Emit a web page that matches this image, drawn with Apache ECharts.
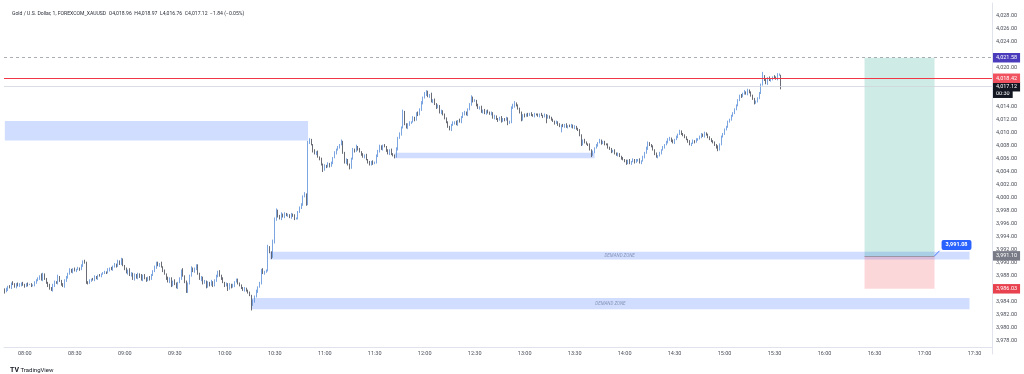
<!DOCTYPE html>
<html><head><meta charset="utf-8">
<script src="https://cdn.jsdelivr.net/npm/echarts@6/dist/echarts.min.js"></script>
<style>html,body{margin:0;padding:0;background:#fff}#c{width:1024px;height:374px}</style>
</head><body><div id="c"></div>
<script>
// ---- data ----
const startHour = 7, startMinute = 48, categoryCount = 593;
const firstOpen = 3985.9;
const closes = [
3985.6,3985.9,3986.4,3986.2,3986.9,3986.7,3986.4,3986.8,3986.5,3986.6,
3986.9,3986.6,3986.4,3986.8,3986.7,3986.7,3986.5,3986.6,3986.9,3987.3,
3987.6,3987.9,3987.4,3988.2,3987.5,3987.0,3986.6,3986.2,3985.8,3986.5,
3987.1,3986.9,3987.9,3987.2,3986.8,3986.4,3987.2,3987.8,3988.3,3988.9,
3988.6,3989.1,3988.8,3989.0,3989.2,3989.0,3989.6,3990.2,3990.0,3987.1,
3986.9,3987.3,3987.5,3987.4,3987.8,3987.6,3988.1,3988.0,3988.3,3988.4,
3988.6,3988.5,3988.9,3989.2,3989.0,3989.4,3989.8,3989.5,3990.2,3989.9,
3990.5,3989.6,3989.1,3988.5,3988.9,3988.1,3988.4,3987.5,3988.2,3987.7,
3988.3,3988.0,3987.4,3988.1,3987.6,3987.3,3987.8,3987.5,3988.2,3988.7,
3989.3,3990.0,3989.6,3989.9,3989.4,3988.8,3988.3,3987.7,3987.1,3987.6,
3986.5,3987.2,3986.8,3986.2,3987.0,3987.6,3988.9,3988.0,3987.1,3985.6,
3986.8,3988.1,3989.2,3988.7,3989.0,3989.6,3988.4,3987.5,3987.8,3986.9,
3987.2,3986.3,3987.0,3986.6,3987.1,3986.5,3987.3,3987.9,3988.7,3988.1,
3987.6,3987.0,3986.5,3986.8,3986.0,3986.7,3986.3,3986.5,3987.1,3987.4,
3986.9,3986.5,3986.2,3985.8,3986.1,3985.7,3985.5,3985.0,3983.6,3984.1,
3984.8,3985.6,3986.3,3986.9,3988.9,3988.4,3988.6,3988.9,3992.3,3991.6,
3990.9,3993.2,3996.6,3998.1,3997.2,3996.8,3997.5,3997.1,3997.6,3997.3,
3997.4,3997.0,3997.5,3997.2,3996.8,3996.9,3997.8,3998.5,3998.9,4000.2,
4000.6,3999.0,4008.5,4008.9,4008.2,4007.3,4006.8,4007.1,4006.3,4006.0,
4005.2,4004.3,4005.0,4004.8,4005.3,4004.9,4005.4,4006.2,4006.9,4007.4,
4007.8,4008.2,4008.6,4007.0,4005.4,4005.9,4005.1,4004.6,4006.1,4007.4,
4007.2,4007.9,4007.5,4007.1,4006.7,4006.3,4006.6,4005.9,4005.5,4005.1,
4005.6,4005.3,4005.5,4006.4,4007.2,4007.9,4007.5,4008.1,4007.9,4007.3,
4006.9,4007.4,4006.8,4006.5,4006.3,4007.5,4009.2,4009.8,4010.8,4013.2,
4011.4,4010.8,4011.2,4011.6,4011.7,4012.3,4012.0,4013.1,4012.8,4013.5,
4014.6,4015.4,4015.9,4016.3,4015.6,4015.9,4014.8,4015.1,4014.4,4014.0,
4014.2,4013.1,4013.4,4012.8,4012.3,4011.6,4011.0,4010.5,4011.2,4011.5,
4011.7,4011.3,4011.9,4011.7,4012.4,4012.9,4013.2,4012.8,4013.6,4014.3,
4015.5,4014.9,4015.0,4014.3,4013.8,4014.0,4013.2,4013.5,4013.0,4013.4,
4013.2,4012.9,4013.1,4012.3,4012.6,4012.1,4012.0,4012.4,4011.8,4012.2,
4012.0,4012.3,4011.5,4011.7,4013.8,4014.1,4014.6,4014.2,4013.8,4013.1,
4012.0,4012.8,4012.6,4012.9,4012.7,4013.0,4012.8,4012.6,4012.9,4012.8,
4012.6,4012.9,4012.7,4012.5,4012.8,4012.4,4012.6,4012.3,4012.1,4011.8,
4011.5,4011.7,4011.3,4011.0,4011.2,4011.0,4011.3,4010.9,4011.1,4011.0,
4011.2,4010.8,4011.0,4010.6,4010.5,4009.6,4008.2,4008.9,4008.6,4008.3,
4008.2,4007.4,4006.6,4007.1,4007.7,4008.1,4008.5,4008.9,4008.4,4008.6,
4008.3,4008.2,4007.8,4007.5,4007.1,4007.3,4006.9,4006.6,4006.8,4006.4,
4006.1,4005.9,4005.7,4005.4,4005.8,4005.3,4005.6,4005.9,4005.5,4005.8,
4005.9,4005.4,4005.7,4006.3,4006.9,4007.6,4008.5,4008.1,4008.0,4007.4,
4006.8,4006.3,4006.5,4006.9,4007.4,4007.8,4008.2,4008.6,4008.9,4009.2,
4008.8,4008.5,4009.0,4009.4,4009.8,4010.2,4009.9,4009.6,4009.4,4009.0,
4008.7,4008.2,4008.4,4008.8,4008.6,4009.0,4009.1,4009.4,4009.7,4009.5,
4010.0,4009.7,4009.4,4009.0,4008.8,4008.5,4008.2,4007.9,4007.4,4008.3,
4009.4,4009.9,4010.5,4011.0,4011.7,4012.1,4012.6,4013.1,4013.6,4014.3,
4015.0,4015.8,4015.6,4016.1,4016.3,4016.0,4016.6,4016.2,4015.8,4015.2,
4014.6,4014.9,4015.3,4016.2,4017.4,4018.6,4018.2,4017.6,4018.5,4018.1,
4018.2,4018.6,4018.5,4018.3,4018.9,4018.96,4017.12
];
// wick lengths above / below the body, in tenths of a dollar, one digit per candle
const wickUp = [
"2312132123","1221212132","2253221213","2131213223","2121212232","1212321212","2131222132","3212132121",
"2131221212","3221312122","2132121312","2131322121","2121312312","1212121312","2121212113","2312232153",
"2443123121","2121312232","3133212121","2121212132","2142121213","2312121212","1213232121","2121232324",
"2132132123","3243213122","2121212123","1213232123","3121212121","2121212121","1212343121","2121212121",
"2121212121","1212121212","2121212121","1212121212","2121212121","1212121212","1212232121","1212121232",
"1212132121","1212121232","2121212121","2121212121","2121312121","2121283212","2132320"
].join('');
const wickDown = [
"3121212312","2121312121","1212123312","2121312121","1212121213","2121212121","1212121212","2121312121",
"2312121212","1212121312","2121212122","2121212132","1212121212","2121312121","2121212192","2121212121",
"3121212121","2121212121","1212131212","2312121212","1212121212","2121212121","1212121212","2321212121",
"2121212121","1212121213","2121212121","2121212121","1212121212","2121213121","2131212121","2121212121",
"1212192121","2121912121","2121212121","2131212121","2121212121","2123212121","2121212121","2121212121",
"2121212121","2121212121","2121212321","2121212121","2121212121","2121212121","2121214"
].join('');
const zoneStart  = ['07:48', '11:42', '10:27', '10:16'];
const zoneEnd    = ['10:50', '13:42', '17:27', '17:27'];
const zoneTop    = [4011.85, 4006.97, 3991.75, 3984.6];
const zoneBottom = [4008.85, 4006.10, 3990.55, 3982.9];
const zoneLabels = ['', '', 'DEMAND ZONE', 'DEMAND ZONE'];
const posStart = '16:24', posEnd = '17:06';
const targetPrice = 4021.58, entryPrice = 3991.08, stopPrice = 3986.03, entryAxisPrice = 3991.10;
const alertPrice = 4018.42, lastPrice = 4017.12, countdown = '00:30';
const hiddenTicks = [4030, 4022, 4018, 4016, 3986, 3976];
const titleText = 'Gold / U.S. Dollar, 1, FOREXCOM_XAUUSD  O4,018.96  H4,018.97  L4,016.76  C4,017.12  \u22121.84 (\u22120.05%)';

// ---- build ----
const pad = n => String(n).padStart(2, '0');
const categories = [];
for (let k = 0; k < categoryCount; k++) {
  const t = startHour * 60 + startMinute + k;
  categories.push(pad(Math.floor(t / 60)) + ':' + pad(t % 60));
}
const candles = closes.map((c, i) => {
  const o = i ? closes[i - 1] : firstOpen;
  const h = Math.max(o, c) + Number(wickUp[i]) / 10;
  const l = Math.min(o, c) - Number(wickDown[i]) / 10;
  return [o, c, +l.toFixed(2), +h.toFixed(2)];
});
const fmt = v => v.toLocaleString('en-US', {minimumFractionDigits: 2, maximumFractionDigits: 2});
const FONT = 'Roboto';
const zoneItems = zoneStart.map((s, i) => [
  {xAxis: s, yAxis: zoneTop[i],
   itemStyle: {color: 'rgba(41,98,255,0.22)'},
   label: {show: !!zoneLabels[i], formatter: zoneLabels[i], position: 'inside',
           color: 'rgba(110,125,160,0.75)', fontSize: 4.5, fontStyle: 'italic', fontFamily: FONT}},
  {xAxis: zoneEnd[i], yAxis: zoneBottom[i]}
]);
const priceTag = (text, bg) => ({show: true, position: 'end', distance: 1, formatter: text, backgroundColor: bg,
  color: '#fff', fontSize: 5.5, lineHeight: 6.5, fontFamily: FONT, padding: [2, 3, 1, 3]});
// the countdown sits one text line (about one price unit at this scale) under the last price tag
const countdownLevel = lastPrice - 1.0;

const chart = echarts.init(document.getElementById('c'), null, {renderer: 'canvas'});
chart.setOption({
  animation: false,
  backgroundColor: '#ffffff',
  title: [
    {text: titleText, left: 7, top: 6, textStyle: {fontSize: 5.1, fontWeight: 'normal', color: '#2a2e39', fontFamily: FONT}},
    {text: '{l|TV} TradingView', left: 5, top: 362,
     textStyle: {fontSize: 6, fontWeight: 'normal', color: '#131722', fontFamily: FONT,
                 rich: {l: {fontSize: 7, fontWeight: 'bold', color: '#131722', fontFamily: FONT}}}}
  ],
  grid: {left: 4, right: 32, top: 3, bottom: 20, containLabel: false},
  xAxis: {
    type: 'category', data: categories, boundaryGap: true, offset: -7,
    axisLine: {show: true, lineStyle: {color: '#e0e3eb'}},
    axisTick: {show: false},
    axisLabel: {interval: (idx, val) => val.endsWith(':00') || val.endsWith(':30'),
                color: '#4a4e59', fontSize: 5.5, fontFamily: FONT, margin: 4},
    splitLine: {show: false}
  },
  yAxis: {
    type: 'value', position: 'right', min: 3976, max: 4030, interval: 2,
    axisLine: {show: true, lineStyle: {color: '#e0e3eb'}},
    axisTick: {show: false},
    splitLine: {show: false},
    axisLabel: {color: '#4a4e59', fontSize: 5.5, fontFamily: FONT, margin: 4,
                formatter: v => hiddenTicks.includes(Math.round(v)) ? '' : fmt(v)}
  },
  series: [{
    type: 'candlestick',
    data: candles,
    barWidth: '55%',
    itemStyle: {color: '#5b8fd9', color0: '#434651', borderColor: '#5b8fd9', borderColor0: '#434651', borderWidth: 0.8},
    markArea: {
      silent: true,
      data: zoneItems.concat([
        [{xAxis: posStart, yAxis: targetPrice, itemStyle: {color: 'rgba(8,153,129,0.2)'}}, {xAxis: posEnd, yAxis: entryPrice}],
        [{xAxis: posStart, yAxis: entryPrice, itemStyle: {color: 'rgba(242,54,69,0.2)'}}, {xAxis: posEnd, yAxis: stopPrice}]
      ])
    },
    markLine: {
      silent: true, symbol: ['none', 'none'],
      data: [
        {yAxis: targetPrice, lineStyle: {color: '#9598a1', type: [3, 3], width: 0.8}, label: priceTag(fmt(targetPrice), '#4a3bbd')},
        {yAxis: countdownLevel, lineStyle: {color: 'rgba(0,0,0,0)', width: 0}, label: priceTag(countdown, '#131722')},
        {yAxis: lastPrice, lineStyle: {color: '#d1d4dc', type: 'solid', width: 0.8}, label: priceTag(fmt(lastPrice), '#131722')},
        {yAxis: alertPrice, lineStyle: {color: '#f23645', type: 'solid', width: 1}, label: priceTag(fmt(alertPrice), '#f0525f')},
        {yAxis: entryAxisPrice, lineStyle: {color: 'rgba(0,0,0,0)', width: 0}, label: priceTag(fmt(entryAxisPrice), '#787b86')},
        {yAxis: stopPrice, lineStyle: {color: 'rgba(0,0,0,0)', width: 0}, label: priceTag(fmt(stopPrice), '#e8424f')},
        [{coord: [posStart, entryPrice], lineStyle: {color: '#8a8d96', type: 'solid', width: 0.8}, label: {show: false}},
         {coord: [posEnd, entryPrice]}],
        [{coord: [posEnd, entryPrice], lineStyle: {color: '#2962ff', type: 'solid', width: 0.8}, label: {show: false}},
         {coord: ['17:09', entryPrice + 0.8]}]
      ]
    },
    markPoint: {
      silent: true,
      data: [{coord: [posEnd, entryPrice], symbol: 'circle', symbolSize: 1, itemStyle: {color: 'rgba(0,0,0,0)'},
              label: {show: true, formatter: fmt(entryPrice), offset: [22, -11], backgroundColor: '#2962ff', color: '#fff',
                      fontSize: 5.5, fontWeight: 'bold', fontFamily: FONT, padding: [2, 4, 2, 4], borderRadius: 2}}]
    }
  }]
});
</script></body></html>
